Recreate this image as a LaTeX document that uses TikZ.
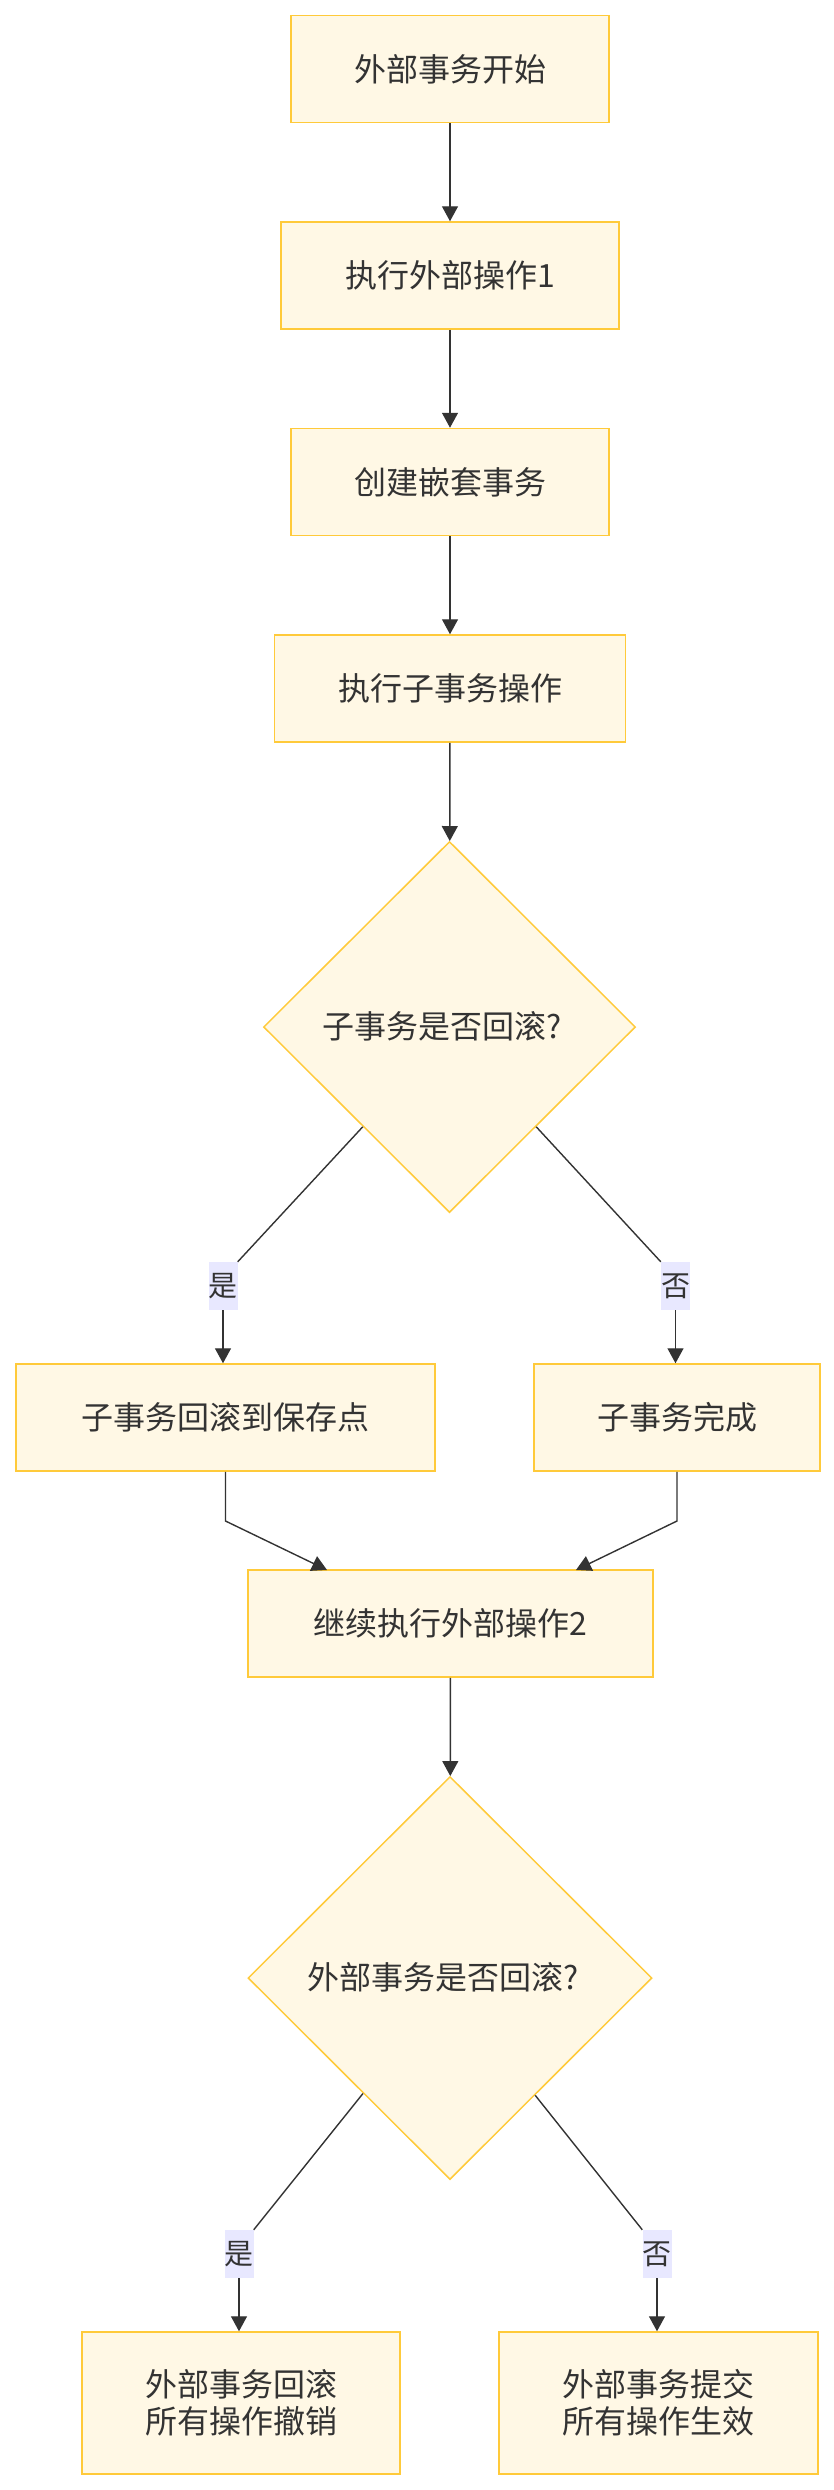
\documentclass[tikz,border=0pt]{standalone}
\usepackage{fontspec}
\setmainfont{Noto Sans CJK SC}
\usetikzlibrary{arrows.meta,shapes.geometric}

\definecolor{boxfill}{HTML}{FFF8E5}
\definecolor{boxline}{HTML}{FFCA3A}
\definecolor{inkgray}{HTML}{333333}
\definecolor{labelbg}{HTML}{E8E8FF}

\tikzset{
  stepbox/.style={draw=boxline, fill=boxfill, line width=1.5pt, inner sep=0pt,
    minimum height=107pt, text=inkgray, align=center,
    font=\fontsize{32}{37}\selectfont},
  askbox/.style={diamond, draw=boxline, fill=boxfill, line width=1.5pt, inner sep=0pt,
    text=inkgray, font=\fontsize{32}{37}\selectfont},
  flow/.style={draw=inkgray, line width=1.4pt,
    -{Triangle[length=15pt,width=16pt]}},
  plain/.style={draw=inkgray, line width=1.4pt},
  edgetag/.style={fill=labelbg, inner sep=0pt, minimum width=28pt, minimum height=48pt,
    text=inkgray, font=\fontsize{29}{34}\selectfont}
}

\begin{document}
\begin{tikzpicture}[x=1pt, y=-1pt]
  \useasboundingbox (0,0) rectangle (834,2490);

  % main chain
  \node[stepbox, minimum width=318pt] (start) at (450,69) {外部事务开始};
  \node[stepbox, minimum width=338pt] (op1) at (450,275.5) {执行外部操作1};
  \node[stepbox, minimum width=318pt] (nest) at (450,482) {创建嵌套事务};
  \node[stepbox, minimum width=351pt] (subop) at (450,688.5) {执行子事务操作};

  % sub transaction decision
  \node[askbox, minimum width=372pt, minimum height=371pt] (subq) at (449.5,1027) {\raisebox{4pt}{子事务是否回滚?}\kern14pt};
  \node[edgetag] (yes1) at (223,1286) {是};
  \node[edgetag] (no1) at (675.5,1286) {否};
  \node[stepbox, minimum width=419pt] (subrb) at (225.5,1417.5) {子事务回滚到保存点};
  \node[stepbox, minimum width=286pt] (subok) at (677,1417.5) {子事务完成};

  % continue outer
  \node[stepbox, minimum width=405pt] (op2) at (450.5,1623.5) {继续执行外部操作2};

  % outer transaction decision
  \node[askbox, minimum width=404pt, minimum height=403pt] (outq) at (450,1978) {\raisebox{4pt}{外部事务是否回滚?}\kern14pt};
  \node[edgetag] (yes2) at (239,2254) {是};
  \node[edgetag] (no2) at (657,2254) {否};
  \node[stepbox, minimum width=318pt, minimum height=142pt] (outrb) at (241,2403) {外部事务回滚\\所有操作撤销};
  \node[stepbox, minimum width=319pt, minimum height=142pt] (outok) at (658.5,2403) {外部事务提交\\所有操作生效};

  % bends of the merging edges
  \coordinate (bendl) at (225.5,1521);
  \coordinate (bendr) at (677,1521);
  \coordinate (inl) at (327,1570);
  \coordinate (inr) at (576,1570);

  % connectors
  \draw[flow] (start) -- (op1);
  \draw[flow] (op1) -- (nest);
  \draw[flow] (nest) -- (subop);
  \draw[flow] (subop) -- (subq);

  \draw[plain] (subq.229.5) -- (yes1.north east);
  \draw[flow] (yes1.south) -- (yes1.south |- subrb.north);
  \draw[plain] (subq.311.2) -- (no1.north west);
  \draw[flow] (no1.south) -- (no1.south |- subok.north);

  \draw[flow] (subrb.south) -- (bendl) -- (inl);
  \draw[flow] (subok.south) -- (bendr) -- (inr);
  \draw[flow] (op2) -- (outq);

  \draw[plain] (outq.233.4) -- (yes2.north east);
  \draw[flow] (yes2.south) -- (yes2.south |- outrb.north);
  \draw[plain] (outq.306.6) -- (no2.north west);
  \draw[flow] (no2.south) -- (no2.south |- outok.north);
\end{tikzpicture}
\end{document}
